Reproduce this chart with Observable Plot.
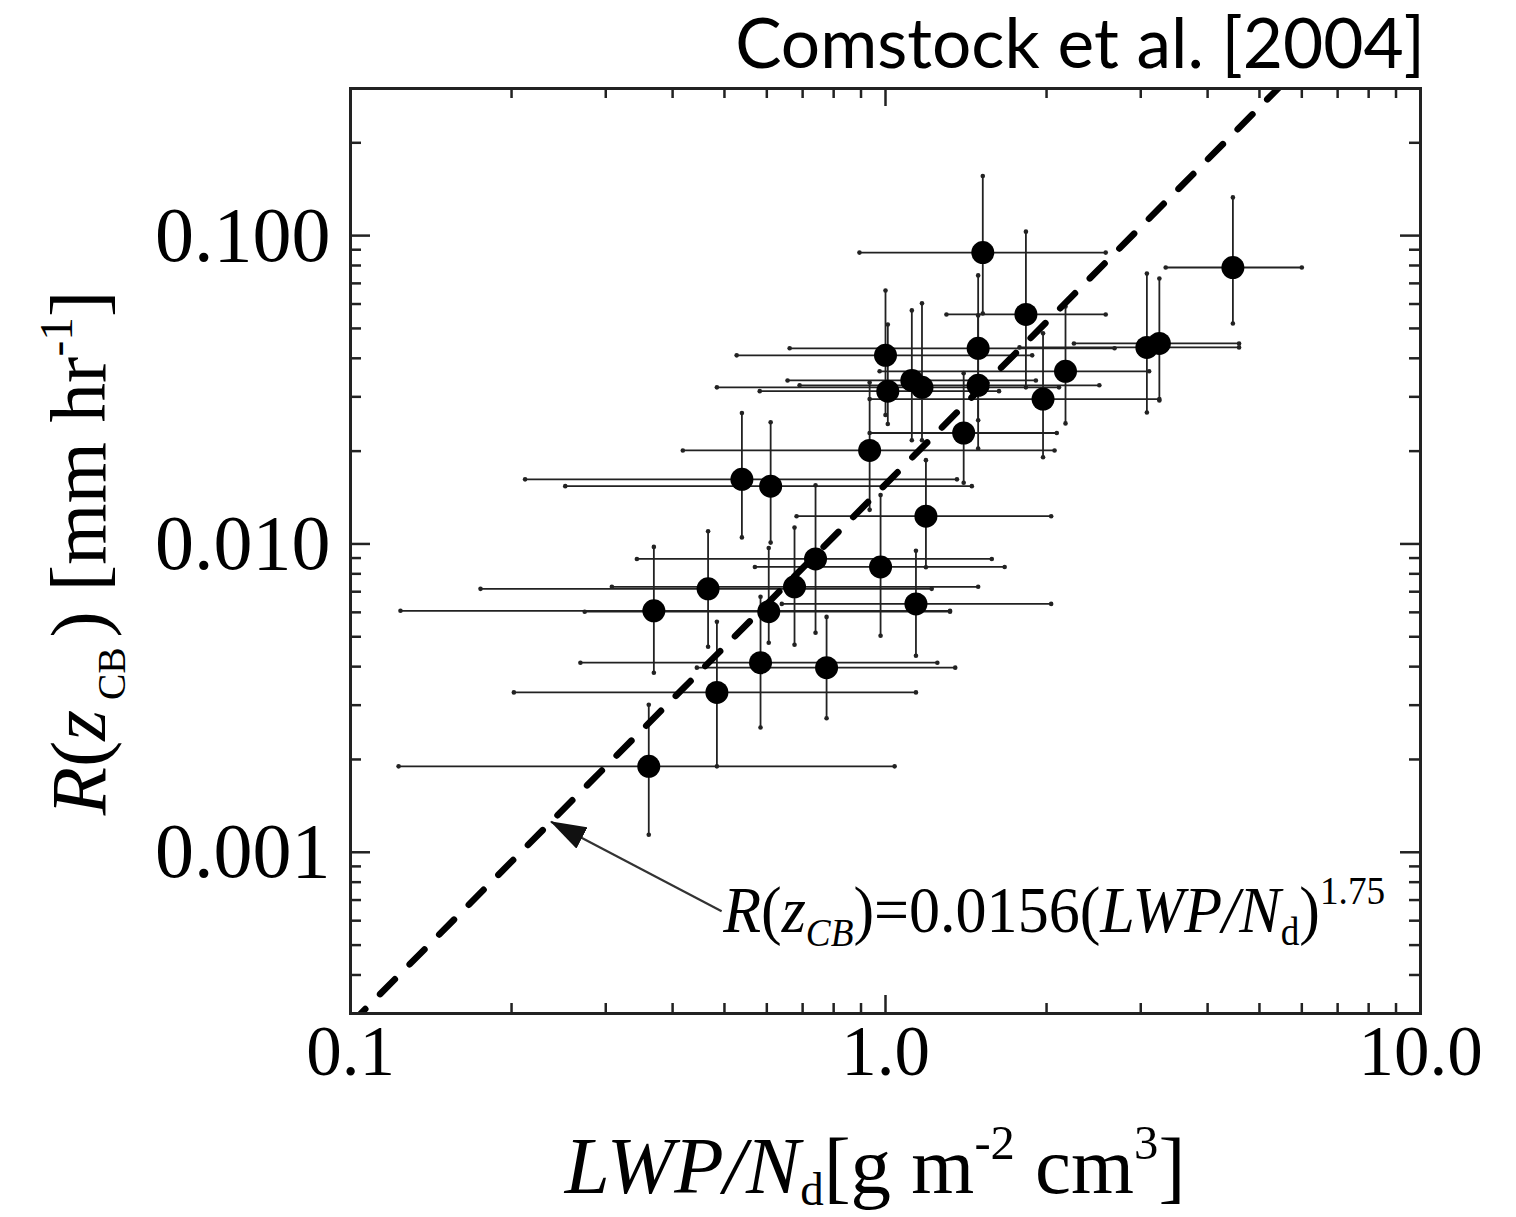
<!DOCTYPE html>
<html>
<head>
<meta charset="utf-8">
<script src="https://cdn.jsdelivr.net/npm/d3@7"></script>
<script src="https://cdn.jsdelivr.net/npm/@observablehq/plot@0.6"></script>
<style>
html,body{margin:0;padding:0;background:#fff;}
#wrap{width:1516px;}
#title{position:relative;height:85px;width:1516px;}
#title span{position:absolute;display:block;right:91px;font-family:Lato,"Open Sans",sans-serif;white-space:nowrap;line-height:normal;color:#000;}
svg text{white-space:pre;}
</style>
</head>
<body>
<div id="wrap"><div id="title"><span id="tt">Comstock et al. [2004]</span></div><div id="chart"></div></div>
<script>
// ---- data ----
const lwpNd  = [4.46,1.52,1.83,1.00,1.49,1.12,1.17,1.01,1.49,2.17,1.97,1.40,0.934,3.08,3.25,0.539,0.610,1.19,0.740,0.979,0.676,0.605,1.14,0.466,0.369,0.584,0.776,0.484,0.361];
const lwpLo  = [3.34,0.894,1.30,0.527,0.662,0.656,0.484,0.582,0.691,0.975,0.934,0.934,0.418,1.78,2.25,0.212,0.252,0.682,0.343,0.570,0.308,0.274,0.640,0.175,0.124,0.269,0.444,0.202,0.123];
const lwpHi  = [6.00,2.58,2.58,1.88,2.68,1.91,2.11,1.63,2.51,3.11,3.25,2.09,2.07,4.58,4.58,1.36,1.45,2.04,1.58,1.67,1.49,1.32,2.04,1.22,1.32,1.25,1.35,1.14,1.04];
const rate   = [0.0788,0.0881,0.0555,0.0409,0.0431,0.0339,0.0322,0.0313,0.0327,0.0363,0.0295,0.0229,0.0201,0.0434,0.0447,0.0162,0.0154,0.0123,0.00894,0.00842,0.00726,0.00603,0.00639,0.00715,0.00607,0.00412,0.00397,0.0033,0.0019];
const rateLo = [0.0519,0.0559,0.0322,0.0262,0.0252,0.0217,0.0217,0.0245,0.0204,0.0246,0.0191,0.0158,0.0129,0.0267,0.0292,0.0105,0.0101,0.0084,0.00515,0.00504,0.00471,0.00478,0.00434,0.00464,0.00382,0.00254,0.00272,0.0019,0.00114];
const rateHi = [0.133,0.156,0.103,0.0664,0.0743,0.0572,0.0603,0.0515,0.0551,0.0589,0.0482,0.0358,0.0334,0.0753,0.0726,0.0266,0.0248,0.0187,0.0155,0.0144,0.0113,0.0097,0.0095,0.0110,0.00978,0.00674,0.0058,0.00559,0.00301];

// fit R(zCB) = 0.0156 (LWP/Nd)^1.75
const fitCoef = 0.0156, fitExp = 1.75;
const fitRange = [0.1, 6];
// annotation arrow: tail near the label, tip on the fit line
const arrowTail = {x: 0.494, y: 0.000644};
const arrowTipX = 0.237;

const majorX = [0.1, 1, 10];
const minorX = [0.2,0.3,0.4,0.5,0.6,0.7,0.8,0.9,2,3,4,5,6,7,8,9];
const majorY = [0.001, 0.01, 0.1];
const minorY = [0.0004,0.0005,0.0006,0.0007,0.0008,0.0009,0.002,0.003,0.004,0.005,0.006,0.007,0.008,0.009,0.02,0.03,0.04,0.05,0.06,0.07,0.08,0.09,0.2];
const xTickText = ["0.1","1.0","10.0"];
const yTickText = ["0.001","0.010","0.100"];

// ---- title ----
const tt = document.getElementById("tt");
let F = 66; tt.style.fontSize = F + "px";
const tw = tt.getBoundingClientRect().width;
F = F * 690 / tw; tt.style.fontSize = F + "px";
tt.style.top = "0px";
const mk = document.createElement("i");
mk.style.cssText = "display:inline-block;width:0;height:0;";
tt.appendChild(mk);
const baseOff = mk.getBoundingClientRect().top - tt.getBoundingClientRect().top;
tt.style.top = Math.max(0, 63 - baseOff) + "px";

// ---- chart ----
const W = 1516, H = 1132, mL = 350, mR = 96, mT = 3, mB = 204;
const fW = W - mL - mR, fH = H - mT - mB;
const rows = lwpNd.map((x, i) => ({x, xlo: lwpLo[i], xhi: lwpHi[i], y: rate[i], ylo: rateLo[i], yhi: rateHi[i]}));
const caps = rows.flatMap(d => [{x: d.xlo, y: d.y}, {x: d.xhi, y: d.y}, {x: d.x, y: d.ylo}, {x: d.x, y: d.yhi}]);
const fit = fitRange.map(x => ({x, y: fitCoef * Math.pow(x, fitExp)}));
const arrow = [{x1: arrowTail.x, y1: arrowTail.y, x2: arrowTipX, y2: fitCoef * Math.pow(arrowTipX, fitExp)}];
const serif = "'Liberation Serif','Times New Roman',serif";

const chart = Plot.plot({
  width: W, height: H,
  marginLeft: mL, marginRight: mR, marginTop: mT, marginBottom: mB,
  x: {type: "log", domain: [0.1, 10], axis: null},
  y: {type: "log", domain: [0.0003, 0.3], axis: null},
  style: {fontFamily: serif, background: "#fff", color: "#000", overflow: "visible"},
  marks: [
    Plot.ruleY(rows, {y: "y", x1: "xlo", x2: "xhi", stroke: "#222", strokeWidth: 1.8}),
    Plot.ruleX(rows, {x: "x", y1: "ylo", y2: "yhi", stroke: "#222", strokeWidth: 1.8}),
    Plot.dot(caps, {x: "x", y: "y", r: 2.3, fill: "#222"}),
    Plot.line(fit, {x: "x", y: "y", stroke: "#000", strokeWidth: 6.5, strokeDasharray: "21,21", clip: true}),
    Plot.dot(rows, {x: "x", y: "y", r: 11.5, fill: "#000"}),
    // inward ticks on all four sides
    Plot.tickX(majorX, {x: d => d, insetBottom: fH - 18, stroke: "#222", strokeWidth: 2.5}),
    Plot.tickX(majorX, {x: d => d, insetTop: fH - 18, stroke: "#222", strokeWidth: 2.5}),
    Plot.tickX(minorX, {x: d => d, insetBottom: fH - 10, stroke: "#222", strokeWidth: 2.5}),
    Plot.tickX(minorX, {x: d => d, insetTop: fH - 10, stroke: "#222", strokeWidth: 2.5}),
    Plot.tickY(majorY, {y: d => d, insetRight: fW - 20, stroke: "#222", strokeWidth: 2.5}),
    Plot.tickY(majorY, {y: d => d, insetLeft: fW - 20, stroke: "#222", strokeWidth: 2.5}),
    Plot.tickY(minorY, {y: d => d, insetRight: fW - 11, stroke: "#222", strokeWidth: 2.5}),
    Plot.tickY(minorY, {y: d => d, insetLeft: fW - 11, stroke: "#222", strokeWidth: 2.5}),
    Plot.frame({stroke: "#222", strokeWidth: 3}),
    // tick labels
    Plot.text(majorX, {x: d => d, frameAnchor: "bottom", dy: 61, text: (d, i) => xTickText[i], fontSize: 71, fontFamily: serif, fill: "#000"}),
    Plot.text(majorY, {y: d => d, frameAnchor: "left", dx: -20, textAnchor: "end", text: (d, i) => yTickText[i], fontSize: 78, fontFamily: serif, fill: "#000"}),
    // annotation arrow
    Plot.link(arrow, {x1: "x1", y1: "y1", x2: "x2", y2: "y2", stroke: "#333", strokeWidth: 2.2})
  ]
});
document.getElementById("chart").appendChild(chart);

// ---- rich text labels ----
const svg = d3.select(chart);
function rich(text, parts, fs) {
  let shift = 0;
  for (const p of parts) {
    const ts = text.append("tspan").text(p.t);
    if (p.italic) ts.attr("font-style", "italic");
    let target = 0, size = fs;
    if (p.sub) { target = fs * (p.drop || 0.2); size = fs * (p.scale || 0.6); }
    if (p.sup) { target = -fs * 0.42; size = fs * 0.6; }
    ts.attr("font-size", size);
    if (target !== shift) { ts.attr("dy", target - shift); shift = target; }
  }
}
const sx = chart.scale("x"), sy = chart.scale("y");

// arrowhead
const defs = svg.append("defs");
defs.append("marker").attr("id", "ah").attr("markerUnits", "userSpaceOnUse")
  .attr("viewBox", "0 0 36 24").attr("refX", 35).attr("refY", 12)
  .attr("markerWidth", 36).attr("markerHeight", 24).attr("orient", "auto")
  .append("path").attr("d", "M0,0L36,12L0,24Z").attr("fill", "#111");
svg.selectAll('g[aria-label="link"] path').attr("marker-end", "url(#ah)");

// y label
const yl = svg.append("text").attr("font-family", serif).attr("fill", "#000")
  .attr("text-anchor", "middle").attr("transform", "translate(105,468) rotate(-90)");
rich(yl, [{t: "R", italic: true}, {t: "("}, {t: "z", italic: true}, {t: " CB ", sub: true, scale: 0.5, drop: 0.25}, {t: ") [mm hr"}, {t: "-1", sup: true}, {t: "]"}], 79);

// x label
const xl = svg.append("text").attr("font-family", serif).attr("fill", "#000")
  .attr("text-anchor", "middle").attr("x", 875).attr("y", 1108);
rich(xl, [{t: "LWP/N", italic: true}, {t: "d", sub: true, drop: 0.15, scale: 0.58}, {t: "[g m"}, {t: "-2", sup: true}, {t: " cm"}, {t: "3", sup: true}, {t: "]"}], 81);

// annotation text
const ax = sx.apply(arrowTail.x), ay = sy.apply(arrowTail.y);
const an = svg.append("text").attr("font-family", serif).attr("fill", "#000").attr("text-anchor", "start")
  .attr("transform", `translate(${ax + 2},${ay + 21}) scale(0.94,1)`);
rich(an, [{t: "R", italic: true}, {t: "("}, {t: "z", italic: true}, {t: "CB", italic: true, sub: true, drop: 0.22}, {t: ")=0.0156("}, {t: "LWP/N", italic: true}, {t: "d", sub: true, drop: 0.2}, {t: ")"}, {t: "1.75", sup: true}], 66);
</script>
</body>
</html>
